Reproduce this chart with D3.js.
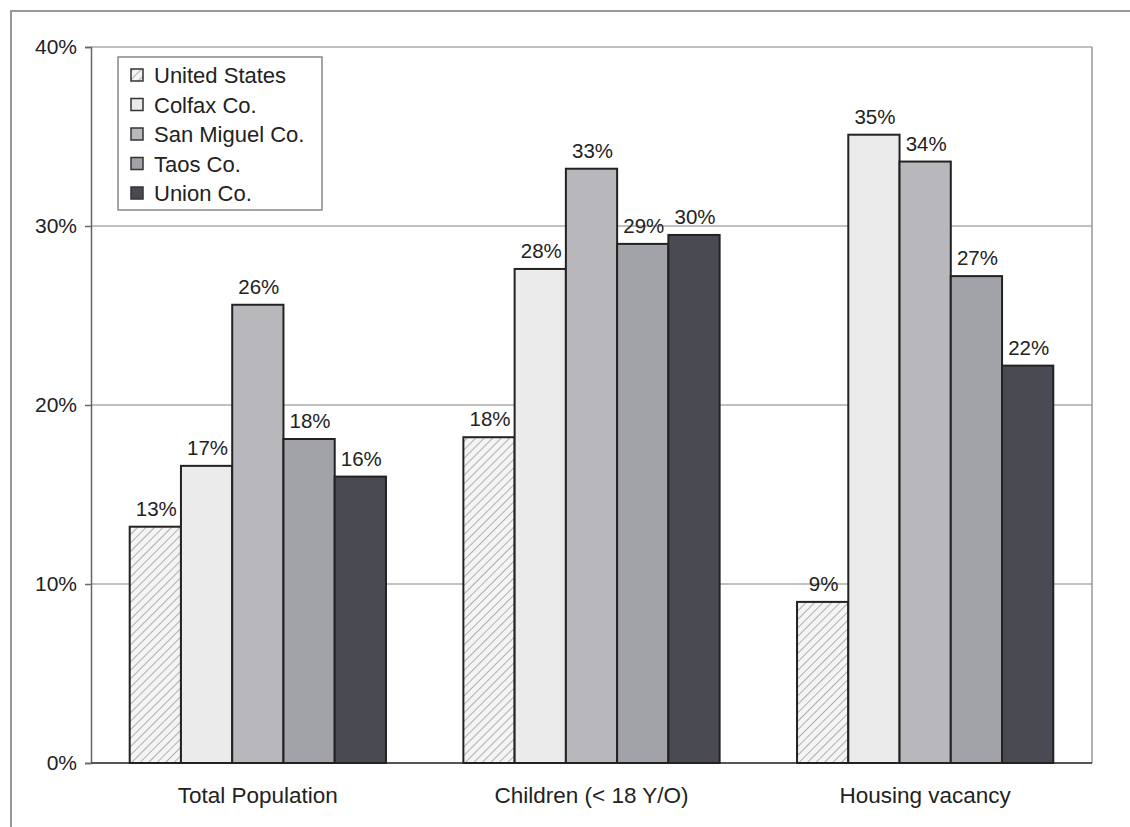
<!DOCTYPE html>
<html>
<head>
<meta charset="utf-8">
<script src="https://cdn.jsdelivr.net/npm/d3@7"></script>
<style>
  body { margin: 0; background: #fff; }
  svg text { font-family: "Liberation Sans", Arial, sans-serif; fill: #222; }
</style>
</head>
<body>
<div id="chart"></div>
<script>
var categories = ["Total Population", "Children (< 18 Y/O)", "Housing vacancy"];
var series = ["United States", "Colfax Co.", "San Miguel Co.", "Taos Co.", "Union Co."];
var values = [
  [13.2, 18.2, 9.0],   // United States
  [16.6, 27.6, 35.1],  // Colfax
  [25.6, 33.2, 33.6],  // San Miguel
  [18.1, 29.0, 27.2],  // Taos
  [16.0, 29.5, 22.2]   // Union
];
var yTicks = [0, 10, 20, 30, 40];
var colors = ["url(#hatch)", "#ebebeb", "#b8b8bc", "#a2a2a9", "#4a4a53"];

var width = 1130, height = 827;
var margin = {top: 47, right: 38, bottom: 64, left: 91};

var svg = d3.select("#chart").append("svg")
    .attr("width", width)
    .attr("height", height);

// hatch pattern for US bars
var pat = svg.append("defs").append("pattern")
    .attr("id", "hatch")
    .attr("patternUnits", "userSpaceOnUse")
    .attr("width", 6).attr("height", 6)
    .attr("patternTransform", "rotate(45)");
pat.append("rect").attr("width", 6).attr("height", 6).attr("fill", "#f4f4f4");
pat.append("line").attr("x1", 0).attr("y1", 0).attr("x2", 0).attr("y2", 6)
    .attr("stroke", "#8a8a8a").attr("stroke-width", 1.3);

// outer frame of the scanned page
svg.append("path")
    .attr("d", "M11," + height + "V11H" + width)
    .attr("fill", "none").attr("stroke", "#999").attr("stroke-width", 2);

var x0 = d3.scaleBand().domain(categories)
    .range([margin.left, width - margin.right])
    .paddingInner(0.232).paddingOuter(0.116);
var x1 = d3.scaleBand().domain(series).range([0, x0.bandwidth()]);
var y = d3.scaleLinear().domain([0, 40]).range([height - margin.bottom, margin.top]);

// gridlines
svg.append("g").selectAll("line")
    .data(yTicks.slice(1))
  .enter().append("line")
    .attr("x1", margin.left).attr("x2", width - margin.right)
    .attr("y1", function(d) { return y(d); })
    .attr("y2", function(d) { return y(d); })
    .attr("stroke", "#ababab").attr("stroke-width", 1.5);

// plot frame right side
svg.append("line")
    .attr("x1", width - margin.right).attr("x2", width - margin.right)
    .attr("y1", margin.top).attr("y2", height - margin.bottom)
    .attr("stroke", "#999").attr("stroke-width", 1.5);

// y axis
var yAxis = d3.axisLeft(y).tickValues(yTicks)
    .tickFormat(function(d) { return d + "%"; })
    .tickSize(6).tickPadding(8);
var gy = svg.append("g")
    .attr("transform", "translate(" + margin.left + ",0)")
    .call(yAxis);
gy.select(".domain").attr("stroke", "#666").attr("stroke-width", 1.5);
gy.selectAll(".tick line").attr("stroke", "#666").attr("stroke-width", 1.5);
gy.selectAll("text").attr("font-size", 21).attr("fill", "#222");

// x axis
var xAxis = d3.axisBottom(x0).tickSize(0).tickPadding(24);
var gx = svg.append("g")
    .attr("transform", "translate(0," + (height - margin.bottom) + ")")
    .call(xAxis);
gx.select(".domain").attr("stroke", "#555").attr("stroke-width", 2)
    .attr("d", "M" + margin.left + ",0H" + (width - margin.right));
gx.selectAll("text").attr("font-size", 22.5).attr("fill", "#222");

// bars
var groups = svg.append("g").selectAll("g")
    .data(categories)
  .enter().append("g")
    .attr("transform", function(d) { return "translate(" + x0(d) + ",0)"; });

groups.selectAll("rect")
    .data(function(c, ci) {
      return series.map(function(s, si) { return {s: s, si: si, v: values[si][ci]}; });
    })
  .enter().append("rect")
    .attr("x", function(d) { return x1(d.s); })
    .attr("width", x1.bandwidth())
    .attr("y", function(d) { return y(d.v); })
    .attr("height", function(d) { return y(0) - y(d.v); })
    .attr("fill", function(d) { return colors[d.si]; })
    .attr("stroke", "#222").attr("stroke-width", 2);

groups.selectAll("text.lbl")
    .data(function(c, ci) {
      return series.map(function(s, si) { return {s: s, si: si, v: values[si][ci]}; });
    })
  .enter().append("text")
    .attr("class", "lbl")
    .attr("x", function(d) { return x1(d.s) + x1.bandwidth() / 2 + 1; })
    .attr("y", function(d) { return y(d.v) - 11; })
    .attr("text-anchor", "middle")
    .attr("font-size", 20.5)
    .text(function(d) { return Math.round(d.v) + "%"; });

// legend
var legend = svg.append("g").attr("transform", "translate(118,57)");
legend.append("rect")
    .attr("width", 204).attr("height", 153)
    .attr("fill", "#fff").attr("stroke", "#888").attr("stroke-width", 1.5);
var items = legend.selectAll("g.item")
    .data(series)
  .enter().append("g")
    .attr("class", "item")
    .attr("transform", function(d, i) { return "translate(0," + (18 + i * 29.5) + ")"; });
items.append("rect")
    .attr("x", 13).attr("y", -6).attr("width", 12).attr("height", 12)
    .attr("fill", function(d, i) { return colors[i]; })
    .attr("stroke", "#333").attr("stroke-width", 1.5);
items.append("text")
    .attr("x", 36).attr("y", 8)
    .attr("font-size", 22)
    .text(function(d) { return d; });
</script>
</body>
</html>
